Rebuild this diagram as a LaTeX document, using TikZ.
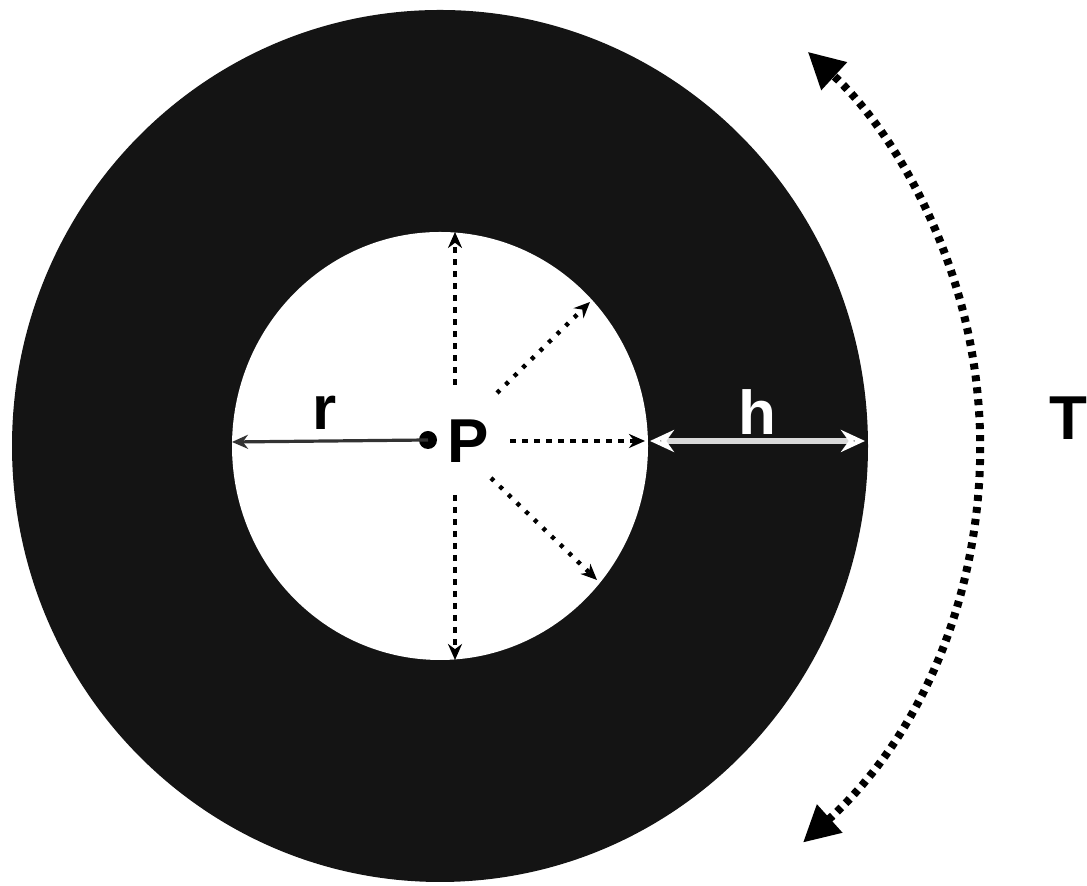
\documentclass[tikz,border=0pt]{standalone}
\usepackage{fontspec}
\setmainfont{Liberation Sans}
\usetikzlibrary{arrows.meta}
\begin{document}
\begin{tikzpicture}[x=0.5pt,y=0.5pt,
  lbl/.style={font=\fontsize{31}{36}\selectfont\bfseries, inner sep=0pt},
  radial/.style={line width=1.8pt, dash pattern=on 3pt off 3pt, -{Stealth[length=8pt,width=7pt]}},
  diag/.style={line width=2.2pt, dash pattern=on 2pt off 4pt, -{Stealth[length=8pt,width=7pt]}},
]
\useasboundingbox (0,0) rectangle (1087,886);
% disk
\fill[black!92] (440,440) ellipse [x radius=428, y radius=436];
\fill[white] (440,440) ellipse [x radius=208, y radius=214];
% coordinates
\coordinate (Pc) at (428,446);
\coordinate (rL) at (232,444);
\coordinate (vuS) at (455,501);
\coordinate (vuE) at (455,654);
\coordinate (vdS) at (455,391);
\coordinate (vdE) at (455,226);
\coordinate (duS) at (497,493);
\coordinate (duE) at (590,584);
\coordinate (ddS) at (491,408);
\coordinate (ddE) at (597,306);
\coordinate (hoS) at (510,445);
\coordinate (hoE) at (645,445);
\coordinate (hS) at (650,445);
\coordinate (hE) at (865,445);
% P dot and label
\node[circle, fill=black, inner sep=0pt, minimum size=9pt] (dot) at (Pc) {};
\node[lbl] (P) at (468,445) {P};
% r
\draw[line width=1.6pt, black!80, -{Stealth[length=8pt,width=7pt]}] (dot.center) -- (rL);
\node[lbl] (r) at (325,473) {r};
% radial arrows
\draw[radial] (vuS) -- (vuE);
\draw[radial] (vdS) -- (vdE);
\draw[diag] (duS) -- (duE);
\draw[diag] (ddS) -- (ddE);
\draw[radial] (hoS) -- (hoE);
% h
\draw[white!85!black, line width=2.8pt, {Stealth[length=12pt,width=11pt,open,fill=black,white]}-{Stealth[length=12pt,width=11pt,open,fill=black,white]}] (hS) -- (hE);
\node[lbl, text=white] (h) at (757,474) {h};
% T
\node[lbl] (T) at (1068,468) {T};
\draw[line width=4pt, dash pattern=on 3pt off 3pt,
  {Triangle[length=18pt,width=18pt]}-{Triangle[length=18pt,width=18pt]}]
  (445,441) ++(-48:535) arc[start angle=-48, end angle=47.3, radius=535];
\end{tikzpicture}
\end{document}
